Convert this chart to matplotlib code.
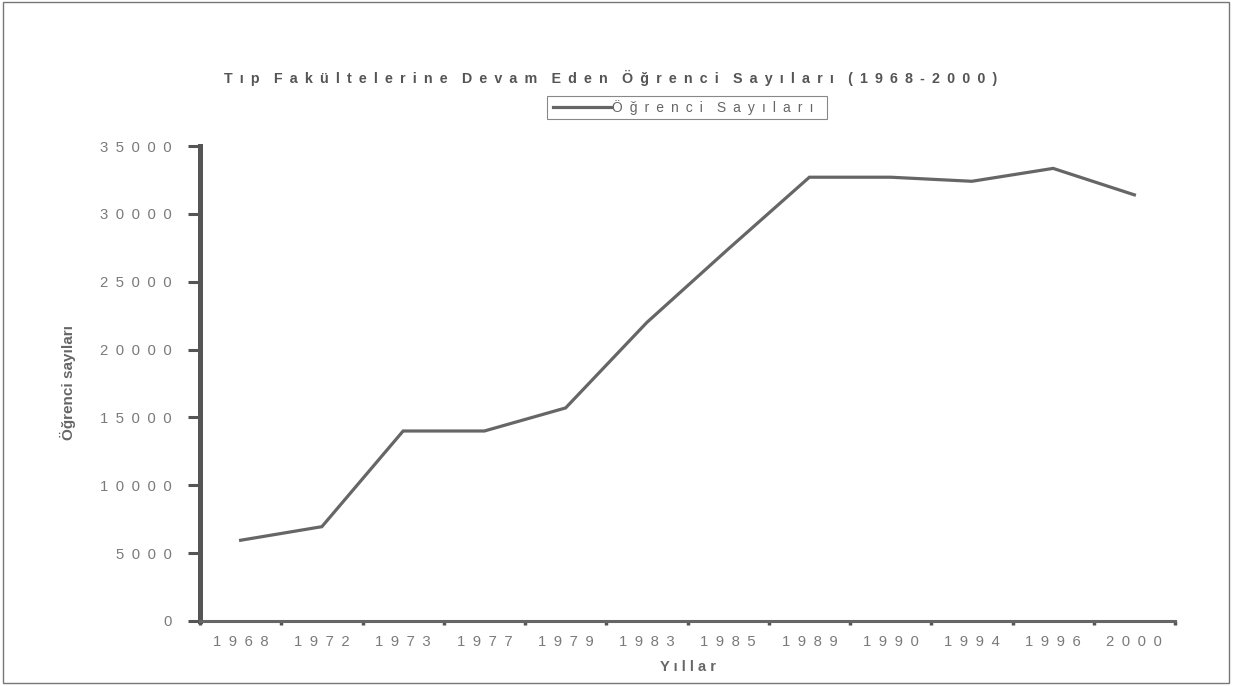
import matplotlib
matplotlib.use("Agg")
import matplotlib.pyplot as plt
import numpy as np
from matplotlib.patches import Rectangle
from matplotlib.lines import Line2D

plt.rcParams['font.family'] = ['Liberation Sans', 'DejaVu Sans']

years = ["1968", "1972", "1973", "1977", "1979", "1983", "1985", "1989", "1990", "1994", "1996", "2000"]
students = [5950, 6950, 14000, 14000, 15700, 22000, 27400, 32700, 32700, 32400, 33350, 31400]
yticks = [0, 5000, 10000, 15000, 20000, 25000, 30000, 35000]
title = "Tıp Fakültelerine Devam Eden Öğrenci Sayıları (1968-2000)"
series_name = "Öğrenci Sayıları"
xlabel = "Yıllar"
ylabel = "Öğrenci sayıları"

SEP = "\u2002"


def spaced(s, sep=SEP, wordsep=None):
    if wordsep is None:
        wordsep = sep * 2
    return wordsep.join(sep.join(w) for w in s.split(" "))


W, H = 1237, 686
fig = plt.figure(figsize=(W / 100, H / 100), dpi=100)
fig.patch.set_facecolor("white")

L, R, B, T = 200, 1175, 621, 146
ax = fig.add_axes([L / W, 1 - B / H, (R - L) / W, (B - T) / H])

x = np.arange(len(years))
ax.plot(x, students, color="#666666", lw=2.3, solid_joinstyle="miter", zorder=3)

ax.set_xlim(-0.5, len(years) - 0.5)
ax.set_ylim(0, 35000)

ax.set_yticks(yticks)
ax.set_yticklabels([spaced(str(v)) for v in yticks])
ax.set_xticks(x)
ax.set_xticklabels([spaced(y) for y in years])
ax.set_xticks(np.arange(-0.5, len(years), 1), minor=True)

ax.tick_params(axis="y", which="major", length=8.5, width=2.2, color="#555555",
               labelsize=10.7, labelcolor="#7a7a7a", pad=12)
ax.tick_params(axis="x", which="major", length=0, labelsize=10.7,
               labelcolor="#7a7a7a", pad=10)
ax.tick_params(axis="x", which="minor", length=3, width=2.5, color="#555555")

for s in ["top", "right"]:
    ax.spines[s].set_visible(False)
ax.spines["left"].set_linewidth(3.6)
ax.spines["left"].set_color("#555555")
ax.spines["bottom"].set_linewidth(2.2)
ax.spines["bottom"].set_color("#666666")

ax.set_xlabel(spaced(xlabel, sep=" "), fontsize=10.5, fontweight="bold",
              color="#666666", labelpad=8)
fig.text(68 / W, 1 - 383 / H, ylabel, rotation=90, ha="center", va="center",
         fontsize=11, fontweight="bold", color="#666666")

fig.text(611 / W, 1 - 78 / H, spaced(title, wordsep=SEP * 2), ha="center",
         va="center", fontsize=10.3, fontweight="bold", color="#555555")

# legend box
fig.patches.append(Rectangle((547 / W, 1 - 119 / H), (827 - 547) / W, 23 / H,
                             transform=fig.transFigure, fill=False,
                             edgecolor="#888888", lw=0.8))
fig.lines.append(Line2D([553 / W, 611 / W], [1 - 107 / H, 1 - 107 / H],
                        transform=fig.transFigure, color="#666666", lw=2.3))
fig.text(612 / W, 1 - 107.5 / H, spaced(series_name), ha="left", va="center",
         fontsize=10, color="#666666")

# outer frame
fig.patches.append(Rectangle((3 / W, 1 - 683 / H), (1229 - 3) / W, (683 - 2) / H,
                             transform=fig.transFigure, fill=False,
                             edgecolor="#777777", lw=1.0))

fig.savefig("out.png", dpi=100)
